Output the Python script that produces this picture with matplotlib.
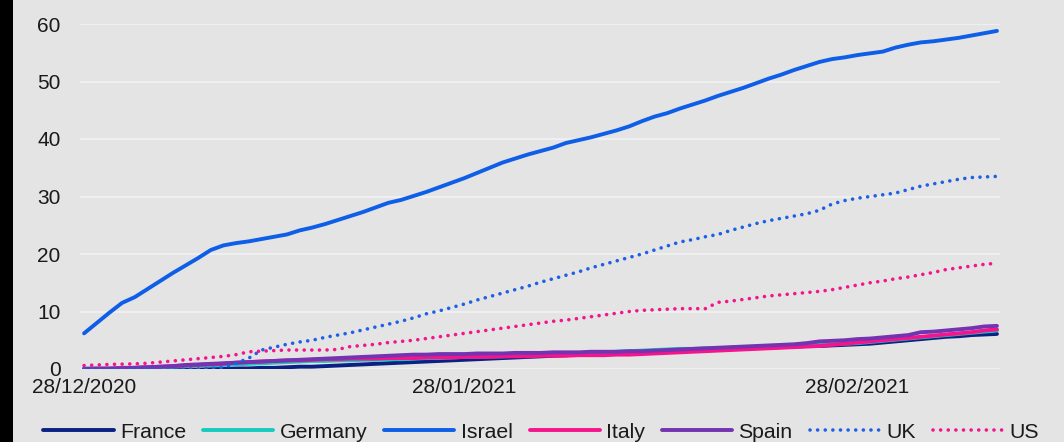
#!/usr/bin/env python3

import numpy as np
import pandas as pd
from matplotlib import pyplot as plt
from matplotlib.patches import Rectangle

plt.rcParams['font.family'] = ['Liberation Sans', 'DejaVu Sans']

# reporting days (no entry for 1 January)
obs_dates = pd.date_range('2020-12-28', '2021-03-11', freq='D').drop(pd.Timestamp('2021-01-01'))
tick_dates = pd.to_datetime(['2020-12-28', '2021-01-28', '2021-02-28'])

# doses per 100 people
france = [0.0, 0.0, 0.0, 0.0, 0.0, 0.0, 0.0, 0.0, 0.0, 0.0,
          0.0, 0.0, 0.1, 0.1, 0.2, 0.2, 0.3, 0.4, 0.4, 0.5,
          0.6, 0.7, 0.8, 0.9, 1.0, 1.1, 1.2, 1.3, 1.4, 1.5,
          1.6, 1.7, 1.8, 1.9, 2.0, 2.1, 2.2, 2.3, 2.4, 2.5,
          2.6, 2.7, 2.8, 2.9, 3.0, 3.1, 3.2, 3.2, 3.3, 3.3,
          3.4, 3.5, 3.6, 3.7, 3.8, 3.8, 3.9, 4.0, 4.0, 4.1,
          4.2, 4.3, 4.4, 4.6, 4.8, 5.0, 5.2, 5.4, 5.6, 5.7, 5.9, 6.0, 6.1]
germany = [0.1, 0.1, 0.1, 0.2, 0.2, 0.3, 0.3, 0.4, 0.5, 0.5,
           0.6, 0.7, 0.8, 0.9, 1.0, 1.1, 1.2, 1.3, 1.4, 1.4,
           1.5, 1.5, 1.6, 1.6, 1.7, 1.7, 1.8, 1.9, 1.9, 2.0,
           2.1, 2.1, 2.2, 2.2, 2.3, 2.4, 2.4, 2.5, 2.6, 2.7,
           2.8, 2.9, 3.0, 3.1, 3.2, 3.3, 3.4, 3.5, 3.5, 3.6,
           3.6, 3.7, 3.8, 3.8, 3.9, 4.0, 4.0, 4.1, 4.2, 4.3,
           4.4, 4.5, 4.7, 4.9, 5.1, 5.3, 5.5, 5.7, 5.9, 6.1, 6.3, 6.5, 6.7]
israel = [6.2, 8.0, 9.8, 11.5, 12.5, 13.9, 15.3, 16.7, 18.0, 19.3,
          20.7, 21.5, 21.9, 22.2, 22.6, 23.0, 23.4, 24.1, 24.6, 25.2,
          25.9, 26.6, 27.3, 28.1, 28.9, 29.4, 30.1, 30.8, 31.6, 32.4,
          33.2, 34.1, 35.0, 35.9, 36.6, 37.3, 37.9, 38.5, 39.3, 39.8,
          40.3, 40.9, 41.5, 42.2, 43.1, 43.9, 44.5, 45.3, 46.0, 46.7,
          47.5, 48.2, 48.9, 49.7, 50.5, 51.2, 52.0, 52.7, 53.4, 53.9,
          54.2, 54.6, 54.9, 55.2, 55.9, 56.4, 56.8, 57.0, 57.3, 57.6, 58.0, 58.4, 58.8]
italy = [0.0, 0.1, 0.1, 0.2, 0.2, 0.3, 0.4, 0.5, 0.6, 0.7,
         0.8, 0.9, 1.1, 1.2, 1.3, 1.4, 1.5, 1.5, 1.6, 1.7,
         1.7, 1.8, 1.8, 1.8, 1.9, 1.9, 1.9, 2.0, 2.0, 2.0,
         2.1, 2.1, 2.1, 2.2, 2.2, 2.2, 2.3, 2.3, 2.3, 2.4,
         2.4, 2.4, 2.5, 2.5, 2.6, 2.7, 2.8, 2.9, 3.0, 3.1,
         3.2, 3.3, 3.4, 3.5, 3.6, 3.7, 3.8, 3.9, 4.0, 4.2,
         4.4, 4.6, 4.8, 5.0, 5.2, 5.4, 5.6, 5.8, 6.0, 6.2, 6.4, 6.7, 6.9]
spain = [0.0, 0.0, 0.0, 0.1, 0.2, 0.3, 0.4, 0.5, 0.7, 0.8,
         0.9, 1.0, 1.1, 1.2, 1.3, 1.4, 1.5, 1.6, 1.7, 1.8,
         1.9, 2.0, 2.1, 2.2, 2.3, 2.4, 2.5, 2.5, 2.6, 2.6,
         2.6, 2.7, 2.7, 2.7, 2.8, 2.8, 2.8, 2.9, 2.9, 2.9,
         3.0, 3.0, 3.0, 3.1, 3.1, 3.2, 3.3, 3.4, 3.5, 3.6,
         3.7, 3.8, 3.9, 4.0, 4.1, 4.2, 4.3, 4.5, 4.8, 4.9,
         5.0, 5.2, 5.3, 5.5, 5.7, 5.9, 6.4, 6.5, 6.7, 6.9, 7.1, 7.4, 7.5]
uk = [0.0, 0.0, 0.0, 0.0, 0.0, 0.0, 0.0, 0.0, 0.0, 0.0,
      0.1, 0.3, 1.0, 1.9, 3.3, 3.8, 4.3, 4.7, 5.0, 5.5,
      5.9, 6.3, 6.8, 7.3, 7.8, 8.3, 8.9, 9.6, 10.1, 10.7,
      11.3, 12.0, 12.6, 13.2, 13.8, 14.4, 15.1, 15.7, 16.3, 16.9,
      17.6, 18.2, 18.8, 19.4, 20.0, 20.7, 21.4, 22.1, 22.5, 23.0,
      23.4, 24.1, 24.7, 25.3, 25.8, 26.2, 26.6, 27.0, 27.6, 28.7,
      29.3, 29.7, 30.0, 30.3, 30.6, 31.2, 31.8, 32.2, 32.6, 33.0, 33.3, 33.4, 33.5]
us = [0.6, 0.7, 0.8, 0.85, 0.9, 1.0, 1.2, 1.4, 1.6, 1.8,
      2.0, 2.2, 2.5, 3.0, 3.1, 3.2, 3.3, 3.3, 3.3, 3.3,
      3.4, 3.9, 4.1, 4.3, 4.6, 4.8, 5.0, 5.3, 5.6, 5.9,
      6.2, 6.5, 6.8, 7.1, 7.4, 7.7, 8.0, 8.3, 8.5, 8.8,
      9.1, 9.4, 9.7, 10.0, 10.2, 10.3, 10.4, 10.5, 10.5, 10.5,
      11.6, 11.8, 12.1, 12.4, 12.7, 12.9, 13.1, 13.3, 13.5, 13.8,
      14.2, 14.6, 15.0, 15.3, 15.7, 16.0, 16.4, 16.8, 17.3, 17.6, 17.9, 18.2, 18.4]

dotted = (0, (0.01, 2.1))
series = [
    ('France', france, '#0b2083', '-'),
    ('Germany', germany, '#14cbbd', '-'),
    ('Israel', israel, '#0f5ee8', '-'),
    ('Italy', italy, '#f5148c', '-'),
    ('Spain', spain, '#7433b0', '-'),
    ('UK', uk, '#1d60e6', dotted),
    ('US', us, '#f5148c', dotted),
]

bg = '#e4e4e4'
fig = plt.figure(figsize=(10.64, 4.42), dpi=100, facecolor=bg)
ax = fig.add_axes([80 / 1064, 73 / 442, 920 / 1064, (369 - 24) / 442])
ax.set_facecolor(bg)

# dark strip down the left edge
fig.patches.append(Rectangle((0, 0), 13 / 1064, 1, transform=fig.transFigure,
                             facecolor='black', edgecolor='none', zorder=-1))

# category-style x axis: one slot per reporting day
x = np.arange(len(obs_dates))
for name, vals, color, ls in series:
    lw = 2.6 if ls == dotted else 2.8
    ax.plot(x, np.array(vals), color=color, linestyle=ls, linewidth=lw,
            label=name, dash_capstyle='round', solid_capstyle='round')

ax.set_ylim(0, 60)
ax.set_yticks(range(0, 61, 10))
ax.set_xlim(-0.32, len(obs_dates) - 1 + 0.24)
ax.set_xticks([obs_dates.get_loc(d) for d in tick_dates])
ax.set_xticklabels([d.strftime('%d/%m/%Y') for d in tick_dates])

ax.grid(axis='y', color='#f2f2f2', linewidth=1.2)
ax.set_axisbelow(True)
for s in ax.spines.values():
    s.set_visible(False)
ax.tick_params(length=0, labelsize=15, colors='#1a1a1a')
ax.tick_params(axis='y', pad=14)
ax.tick_params(axis='x', pad=6.5)

fig.legend(loc='center', bbox_to_anchor=(541 / 1064, 1 - 432 / 442), ncol=7,
           frameon=False, fontsize=15.3, handlelength=3.3, handletextpad=0.3,
           columnspacing=0.8, labelcolor='#1a1a1a')

fig.savefig('out.png', dpi=100, facecolor=bg)
